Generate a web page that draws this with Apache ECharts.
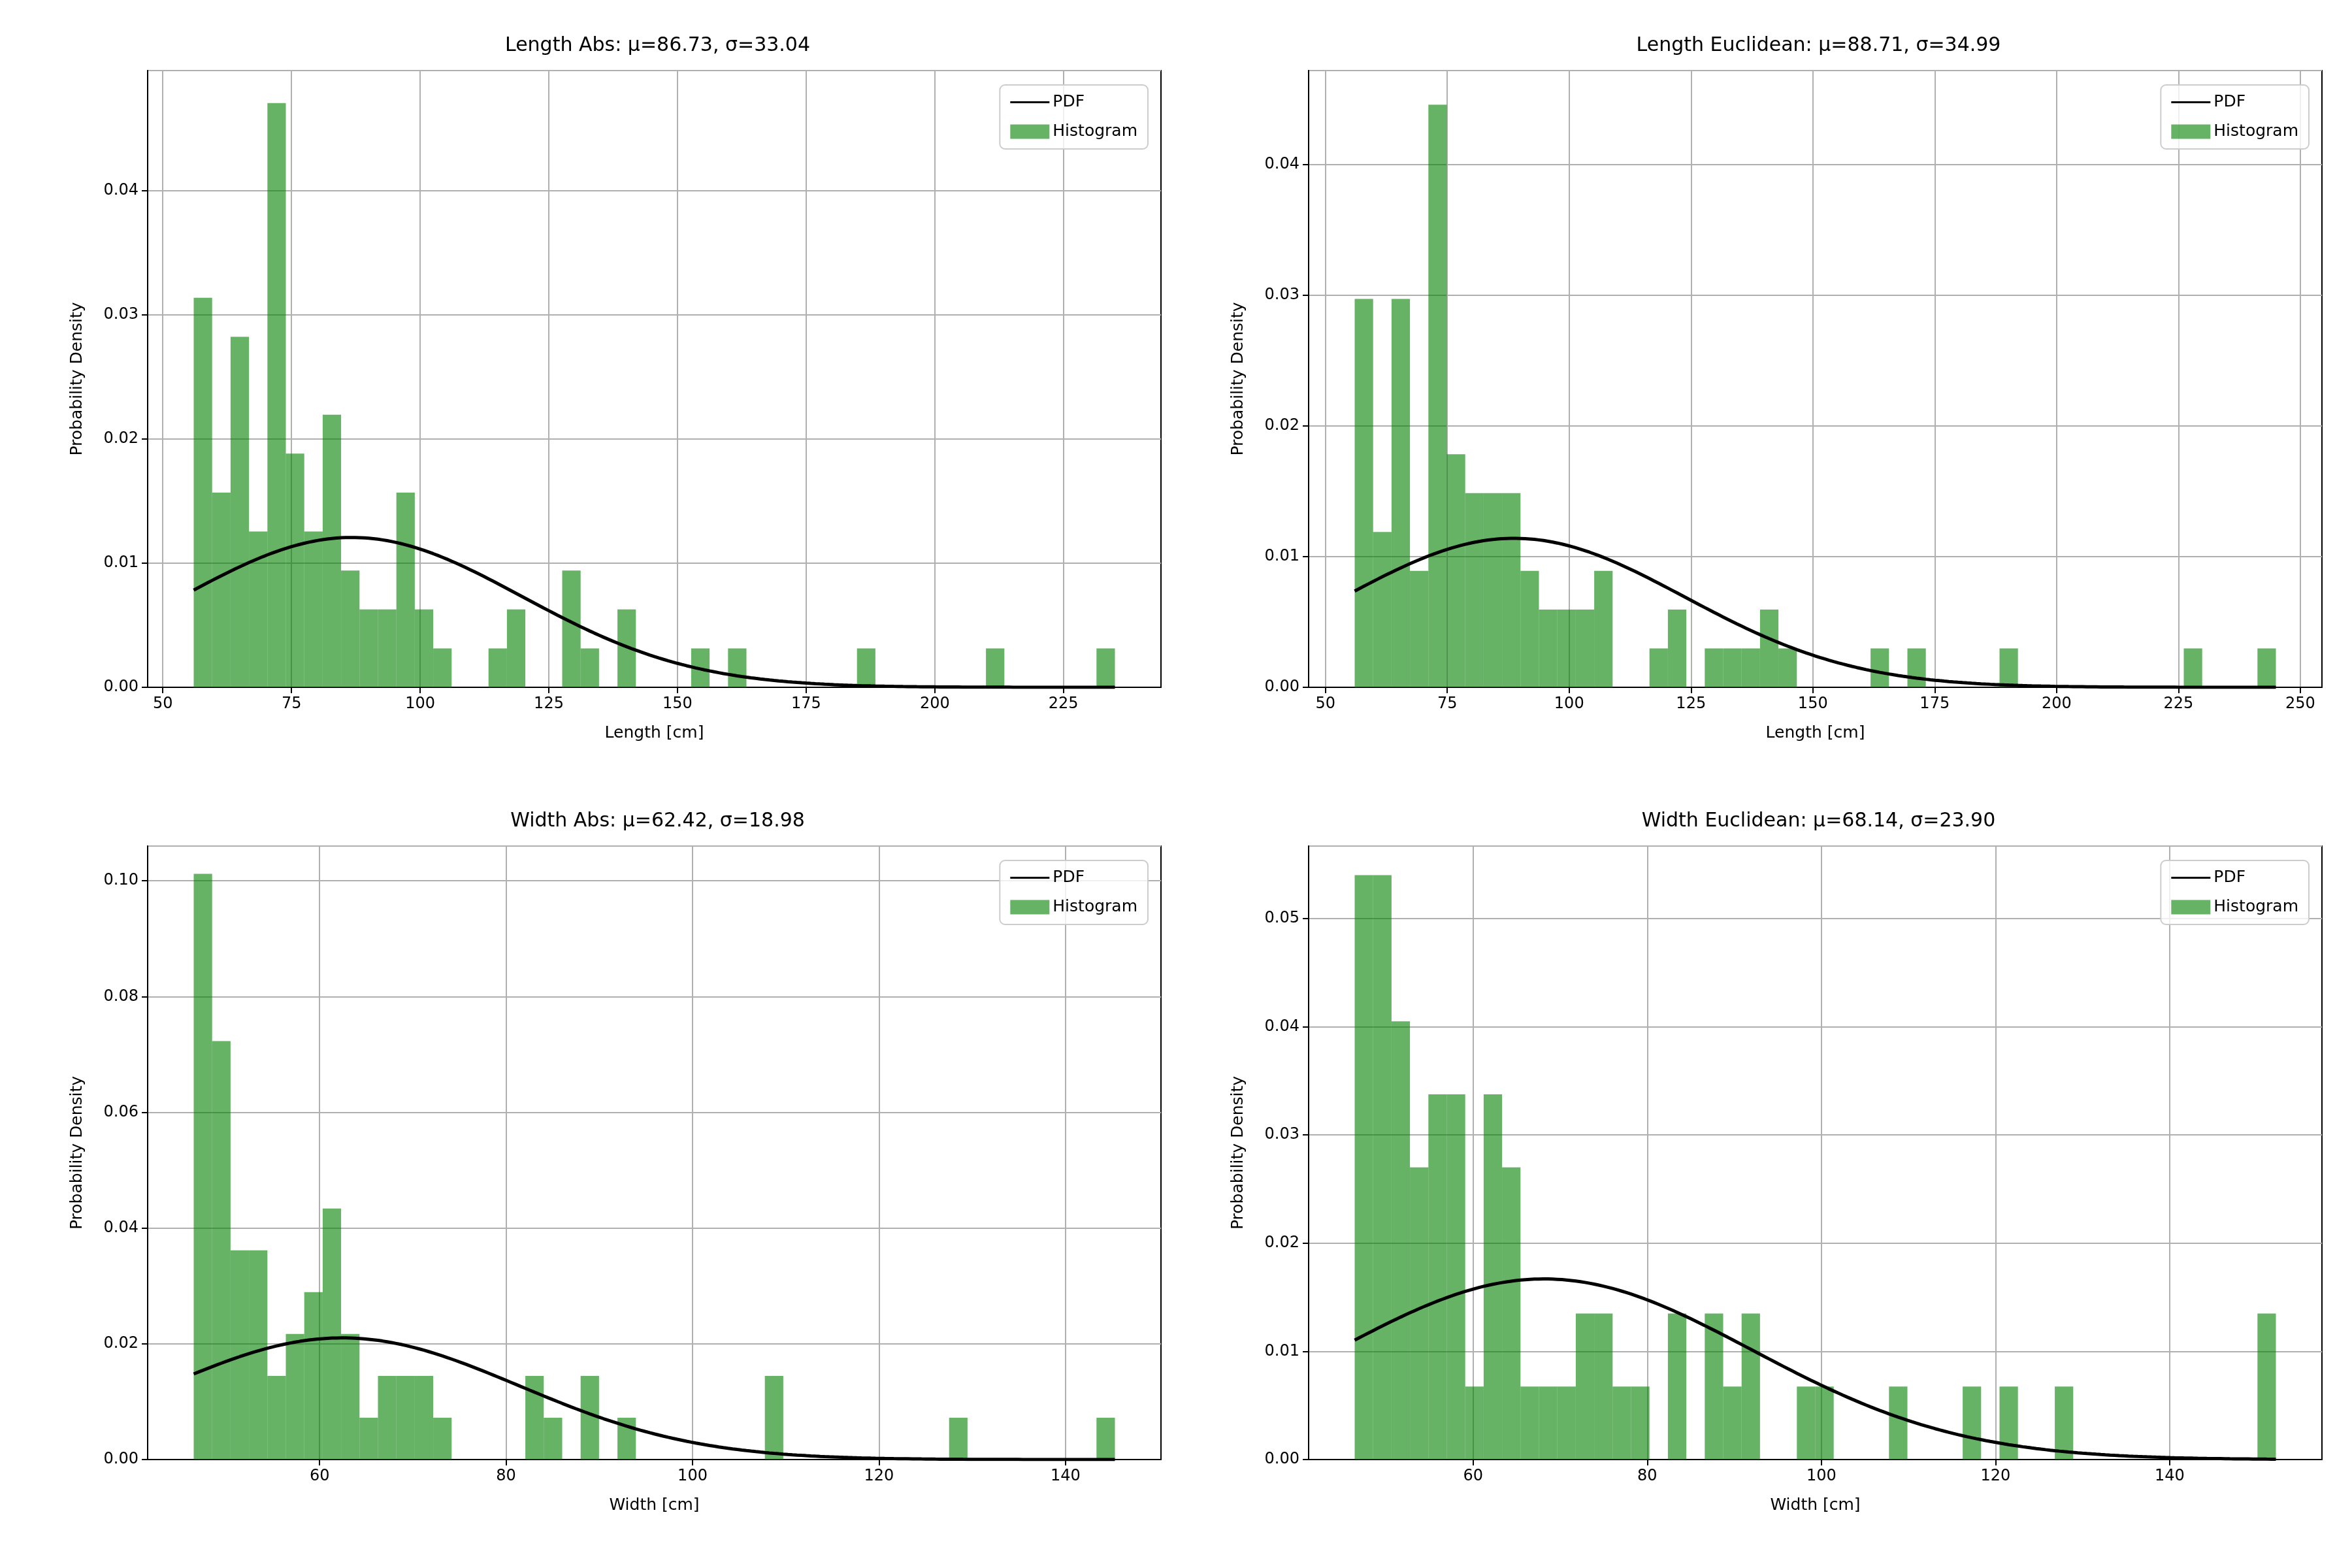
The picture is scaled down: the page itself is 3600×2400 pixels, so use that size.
<!DOCTYPE html>
<html>
<head>
<meta charset="utf-8">
<script src="https://cdn.jsdelivr.net/npm/echarts@6/dist/echarts.min.js"></script>
<style>html,body{margin:0;padding:0;background:#fff}#chart{width:3600px;height:2400px}</style>
</head>
<body>
<div id="chart"></div>
<script>
// histogram counts per bin (50 bins each)
var lenAbsCounts = [10,5,9,4,15,6,4,7,3,2,2,5,2,1,0,0,1,2,0,0,3,1,0,2,0,0,0,1,0,1,0,0,0,0,0,0,1,0,0,0,0,0,0,1,0,0,0,0,0,1];
var lenEucCounts = [10,4,10,3,15,6,5,5,5,3,2,2,2,3,0,0,1,2,0,1,1,1,2,1,0,0,0,0,1,0,1,0,0,0,0,1,0,0,0,0,0,0,0,0,0,1,0,0,0,1];
var widAbsCounts = [14,10,5,5,2,3,4,6,3,1,2,2,2,1,0,0,0,0,2,1,0,2,0,1,0,0,0,0,0,0,0,2,0,0,0,0,0,0,0,0,0,1,0,0,0,0,0,0,0,1];
var widEucCounts = [8,8,6,4,5,5,1,5,4,1,1,1,2,2,1,1,0,2,0,2,1,2,0,0,1,1,0,0,0,1,0,0,0,1,0,1,0,0,1,0,0,0,0,0,0,0,0,0,0,2];

var binStarts = [56.0, 56.0, 46.5, 46.4];
var binWidths = [3.58, 3.78, 1.976, 2.116];
var mus = [86.73, 88.71, 62.42, 68.14];
var sigmas = [33.04, 34.99, 18.98, 23.90];
var titles = ['Length Abs: μ=86.73, σ=33.04', 'Length Euclidean: μ=88.71, σ=34.99',
              'Width Abs: μ=62.42, σ=18.98', 'Width Euclidean: μ=68.14, σ=23.90'];
var xNames = ['Length [cm]', 'Length [cm]', 'Width [cm]', 'Width [cm]'];
var xTicks = [[50,75,100,125,150,175,200,225], [50,75,100,125,150,175,200,225,250],
              [60,80,100,120,140], [60,80,100,120,140]];
var yMax = [0.0497, 0.0472, 0.106, 0.0567];
var yStep = [0.01, 0.01, 0.02, 0.01];

var allCounts = [lenAbsCounts, lenEucCounts, widAbsCounts, widEucCounts];
var grids = [
  {left:226, top:108, width:1551, height:944},
  {left:2003, top:108, width:1551, height:944},
  {left:226, top:1295, width:1551, height:939},
  {left:2003, top:1295, width:1551, height:939}
];

var FONT = 'DejaVu Sans';
var option = {backgroundColor:'#fff', textStyle:{fontFamily:FONT}, animation:false,
  title:[], grid:[], xAxis:[], yAxis:[], series:[], legend:[]};

for (var k = 0; k < 4; k++) {
  var c = allCounts[k];
  var n = c.reduce(function(a,b){return a+b;}, 0);
  var w = binWidths[k];
  var bars = [];
  for (var i = 0; i < c.length; i++) {
    var s = binStarts[k] + i*w;
    bars.push([s, s+w, c[i]/(n*w)]);
  }
  var lo = binStarts[k], hi = binStarts[k] + c.length*w;
  var pdf = [];
  for (var j = 0; j <= 200; j++) {
    var x = lo + (hi-lo)*j/200;
    var z = (x - mus[k])/sigmas[k];
    pdf.push([x, Math.exp(-0.5*z*z)/(sigmas[k]*Math.sqrt(2*Math.PI))]);
  }
  var pad = (hi-lo)*0.05;
  var g = grids[k];
  option.grid.push({left:g.left, top:g.top, width:g.width, height:g.height, show:true,
    borderColor:'#000', borderWidth:2, backgroundColor:'transparent'});
  option.title.push({text:titles[k], left:g.left+g.width/2, top:g.top-58, textAlign:'center',
    textStyle:{fontFamily:FONT, fontSize:30, fontWeight:'normal', color:'#000'}});
  var tk = xTicks[k];
  option.xAxis.push({type:'value', gridIndex:k, min:lo-pad, max:hi+pad,
    name:xNames[k], nameLocation:'middle', nameGap:58,
    nameTextStyle:{fontFamily:FONT, fontSize:25, color:'#000'},
    axisLine:{show:true, onZero:false, lineStyle:{color:'#000', width:2}},
    axisTick:{show:true, length:9, lineStyle:{color:'#000', width:2}, customValues:tk},
    axisLabel:{fontFamily:FONT, fontSize:24, color:'#000', margin:14, customValues:tk},
    splitLine:{show:true, lineStyle:{color:'#b0b0b0', width:2}}});
  option.yAxis.push({type:'value', gridIndex:k, min:0, max:yMax[k], interval:yStep[k],
    name:'Probability Density', nameLocation:'middle', nameGap:95, nameRotate:90,
    nameTextStyle:{fontFamily:FONT, fontSize:25, color:'#000'},
    axisLine:{show:true, lineStyle:{color:'#000', width:2}},
    axisTick:{show:true, length:9, lineStyle:{color:'#000', width:2}},
    axisLabel:{fontFamily:FONT, fontSize:24, color:'#000', margin:14, showMaxLabel:false,
      formatter:function(v){return v.toFixed(2);}},
    splitLine:{show:true, lineStyle:{color:'#b0b0b0', width:2}}});
  option.series.push({type:'custom', name:'Histogram', xAxisIndex:k, yAxisIndex:k, data:bars,
    encode:{x:[0,1], y:2}, z:3,
    itemStyle:{color:'rgba(0,128,0,0.6)'},
    renderItem:function(params, api){
      var p0 = api.coord([api.value(0), api.value(2)]);
      var p1 = api.coord([api.value(1), 0]);
      return {type:'rect', shape:{x:p0[0], y:p0[1], width:p1[0]-p0[0], height:p1[1]-p0[1]},
        style:{fill:'rgba(0,128,0,0.6)'}};
    }});
  option.series.push({type:'line', name:'PDF', xAxisIndex:k, yAxisIndex:k, data:pdf,
    showSymbol:false, z:4, lineStyle:{color:'#000', width:5}, itemStyle:{color:'#000'}});
  option.legend.push({right:3600-(g.left+g.width)+20, top:g.top+22, orient:'vertical',
    backgroundColor:'rgba(255,255,255,0.8)', borderColor:'#ccc', borderWidth:2, borderRadius:8,
    padding:[14,16,14,16], itemGap:20, itemWidth:60, itemHeight:22,
    textStyle:{fontFamily:FONT, fontSize:25, color:'#000'},
    data:[{name:'PDF', icon:'path://M0,10 L60,10 L60,13 L0,13 Z', itemStyle:{color:'#000'}},
          {name:'Histogram', icon:'rect', itemStyle:{color:'rgba(0,128,0,0.6)'}}]});
}

var myChart = echarts.init(document.getElementById('chart'));
myChart.setOption(option);
</script>
</body>
</html>
